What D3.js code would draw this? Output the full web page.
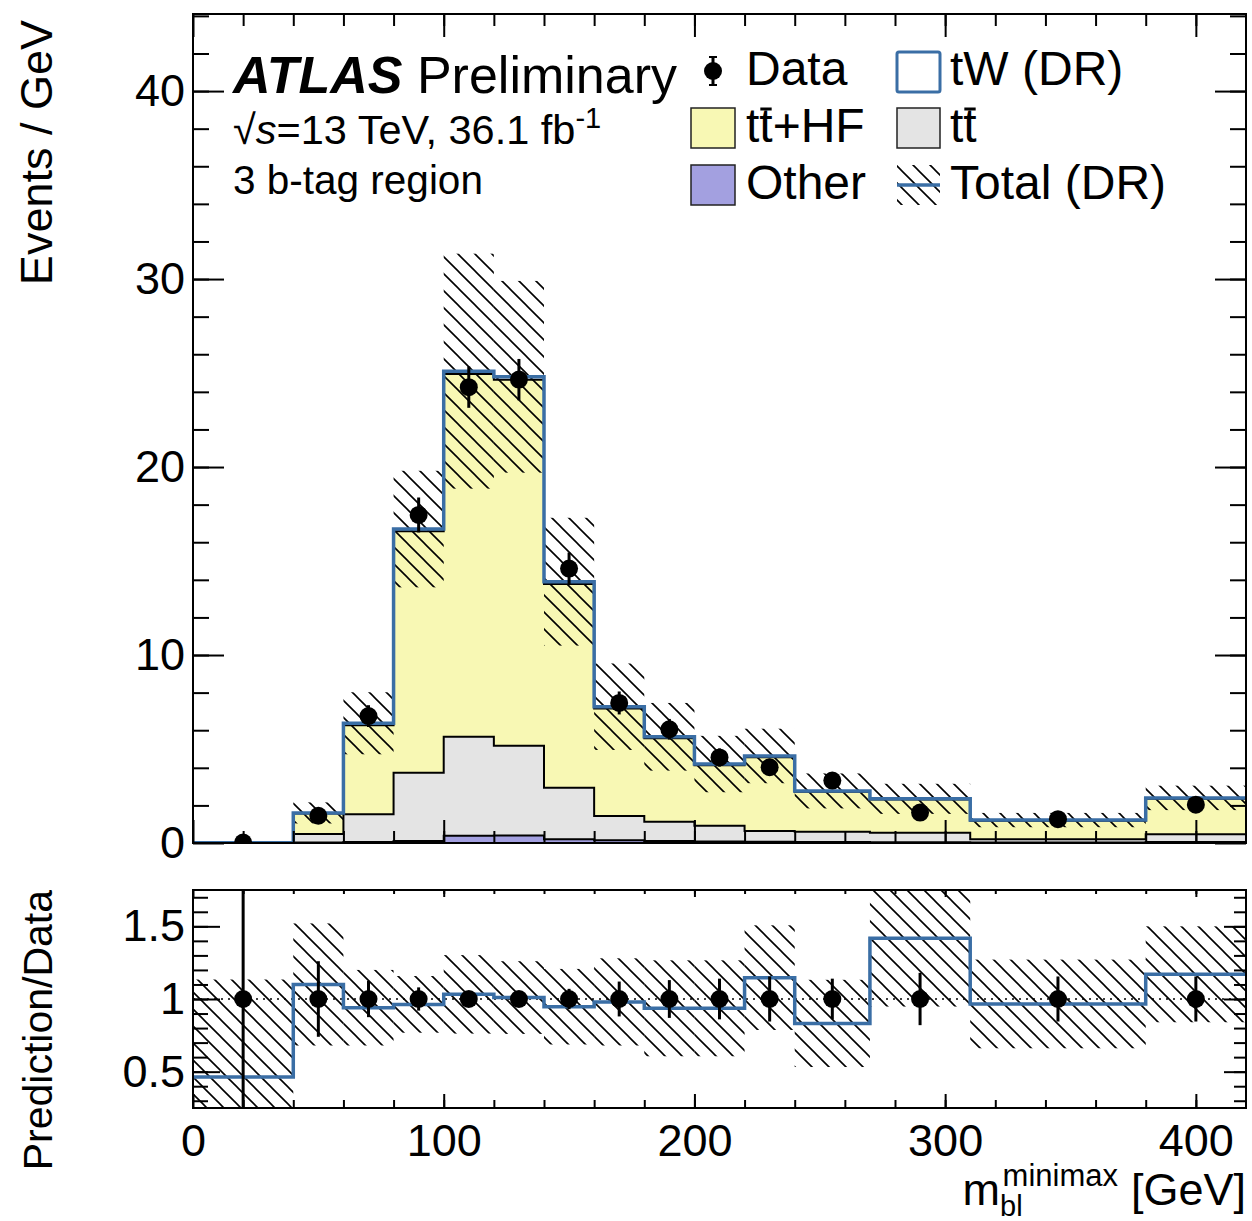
<!DOCTYPE html>
<html>
<head>
<meta charset="utf-8">
<script src="https://cdn.jsdelivr.net/npm/d3@7"></script>
<style>
  body { margin: 0; background: #fff; }
  svg { display: block; }
  text { font-family: "Liberation Sans", Arial, Helvetica, sans-serif; fill: #000; }
</style>
</head>
<body>
<div id="chart"></div>
<script>
// bin edges of m_bl^minimax [GeV]
const binEdges = [0, 40, 60, 80, 100, 120, 140, 160, 180, 200, 220, 240, 270, 310, 380, 420];

// stacked predictions, events / GeV
const otherYield = [0.002, 0.02, 0.05, 0.1, 0.38, 0.4, 0.2, 0.15, 0.1, 0.08, 0.06, 0.05, 0.04, 0.02, 0.05];
const ttbarYield = [0.003, 0.46, 1.48, 3.64, 5.27, 4.78, 2.74, 1.29, 1.03, 0.84, 0.58, 0.55, 0.51, 0.18, 0.41];
const ttHFYield = [0.006, 1.09, 4.74, 12.84, 19.3, 19.47, 10.84, 5.72, 4.44, 3.21, 3.92, 2.12, 1.76, 0.99, 1.89];
const tWYield = [0.001, 0.03, 0.1, 0.12, 0.15, 0.15, 0.12, 0.09, 0.08, 0.07, 0.07, 0.05, 0.04, 0.03, 0.05];
const totalUnc = [0, 0.56, 1.65, 3.1, 6.25, 5.1, 3.4, 2.3, 1.8, 1.5, 1.45, 0.93, 0.8, 0.38, 0.65];

// data
const dataValues = [0.025, 1.45, 6.75, 17.45, 24.25, 24.65, 14.6, 7.45, 6.05, 4.55, 4.03, 3.32, 1.62, 1.27, 2.04];
const dataErrors = [0.025, 0.27, 0.58, 0.93, 1.1, 1.1, 0.85, 0.61, 0.55, 0.48, 0.45, 0.33, 0.2, 0.14, 0.23];

// ratio panel
const ratioValues = [0.464, 1.1, 0.94, 0.963, 1.032, 1.01, 0.947, 0.98, 0.936, 0.936, 1.147, 0.832, 1.418, 0.966, 1.17];
const ratioUnc = [0.67, 0.42, 0.26, 0.195, 0.27, 0.25, 0.26, 0.3, 0.33, 0.33, 0.36, 0.3, 0.47, 0.305, 0.33];
const ratioDataErr = [1.5, 0.26, 0.125, 0.08, 0.05, 0.05, 0.07, 0.12, 0.13, 0.14, 0.155, 0.14, 0.18, 0.155, 0.155];

const xTicks = [0, 100, 200, 300, 400];
const yTicks = [0, 10, 20, 30, 40];
const ratioTicks = [0.5, 1, 1.5];

const width = 1252;
const height = 1221;
const frame = { left: 193, right: 1246 };
const mainPanel = { top: 14, bottom: 843 };
const ratioPanel = { top: 890, bottom: 1108 };
const blue = "#3a6ea5";
const font = 45;

const svg = d3.select("#chart").append("svg").attr("width", width).attr("height", height);
const defs = svg.append("defs");

const hatch = defs.append("pattern")
  .attr("id", "hatch")
  .attr("patternUnits", "userSpaceOnUse")
  .attr("width", 17)
  .attr("height", 17);
hatch.append("path")
  .attr("d", "M0,0L17,17M-4,13L4,21M13,-4L21,4")
  .attr("stroke", "#000")
  .attr("stroke-width", 1.6);

defs.append("clipPath").attr("id", "clipMain").append("rect")
  .attr("x", frame.left).attr("y", mainPanel.top)
  .attr("width", frame.right - frame.left).attr("height", mainPanel.bottom - mainPanel.top);
defs.append("clipPath").attr("id", "clipRatio").append("rect")
  .attr("x", frame.left).attr("y", ratioPanel.top)
  .attr("width", frame.right - frame.left).attr("height", ratioPanel.bottom - ratioPanel.top);

const x = d3.scaleLinear().domain([0, 420]).range([frame.left, frame.right]);
const y = d3.scaleLinear().domain([0, 44.1]).range([mainPanel.bottom, mainPanel.top]);
const yRatio = d3.scaleLinear().domain([0.25, 1.75]).range([ratioPanel.bottom, ratioPanel.top]);

const rows = binEdges.slice(0, -1).map((lo, i) => ({
  lo,
  hi: binEdges[i + 1],
  center: (lo + binEdges[i + 1]) / 2,
  other: otherYield[i],
  ttbar: ttbarYield[i],
  ttHF: ttHFYield[i],
  tW: tWYield[i],
  data: dataValues[i],
  dataErr: dataErrors[i],
  unc: totalUnc[i],
  ratio: ratioValues[i],
  ratioUnc: ratioUnc[i],
  ratioErr: ratioDataErr[i],
}));

const layers = d3.stack().keys(["other", "ttbar", "ttHF", "tW"])(rows);
const layerColors = { other: "#a3a0e0", ttbar: "#e4e4e4", ttHF: "#f8f8b4", tW: "#ffffff" };

// points for step drawing: one per bin low edge plus a closing point at the last edge
function stepPoints(values) {
  const pts = values.map((v, i) => ({ x: binEdges[i], v }));
  pts.push({ x: binEdges[binEdges.length - 1], v: values[values.length - 1] });
  return pts;
}

// ---------- main panel ----------
const main = svg.append("g").attr("clip-path", "url(#clipMain)");

layers.forEach((layer) => {
  const pts = layer.map((d, i) => ({ x: binEdges[i], lower: d[0], upper: d[1] }));
  pts.push({ x: binEdges[binEdges.length - 1], lower: layer[layer.length - 1][0], upper: layer[layer.length - 1][1] });
  main.append("path")
    .datum(pts)
    .attr("fill", layerColors[layer.key])
    .attr("d", d3.area().x((d) => x(d.x)).y0((d) => y(d.lower)).y1((d) => y(d.upper)).curve(d3.curveStepAfter));
});

layers.slice(0, 3).forEach((layer) => {
  main.append("path")
    .datum(stepPoints(layer.map((d) => d[1])))
    .attr("fill", "none")
    .attr("stroke", "#000")
    .attr("stroke-width", 2)
    .attr("d", d3.line().x((d) => x(d.x)).y((d) => y(d.v)).curve(d3.curveStepAfter));
});

const totals = layers[layers.length - 1].map((d) => d[1]);

main.append("g")
  .selectAll("rect")
  .data(rows.filter((r) => r.unc > 0))
  .join("rect")
  .attr("x", (d) => x(d.lo))
  .attr("width", (d) => x(d.hi) - x(d.lo))
  .attr("y", (d) => y(totals[rows.indexOf(d)] + d.unc))
  .attr("height", (d) => y(totals[rows.indexOf(d)] - d.unc) - y(totals[rows.indexOf(d)] + d.unc))
  .attr("fill", "url(#hatch)");

main.append("path")
  .datum(stepPoints(totals))
  .attr("fill", "none")
  .attr("stroke", blue)
  .attr("stroke-width", 3.5)
  .attr("d", d3.line().x((d) => x(d.x)).y((d) => y(d.v)).curve(d3.curveStepAfter));

const dataG = main.append("g");
dataG.selectAll("line")
  .data(rows)
  .join("line")
  .attr("x1", (d) => x(d.center)).attr("x2", (d) => x(d.center))
  .attr("y1", (d) => y(d.data - d.dataErr)).attr("y2", (d) => y(d.data + d.dataErr))
  .attr("stroke", "#000").attr("stroke-width", 3);
dataG.selectAll("circle")
  .data(rows)
  .join("circle")
  .attr("cx", (d) => x(d.center))
  .attr("cy", (d) => y(d.data))
  .attr("r", 9)
  .attr("fill", "#000");

// ---------- ratio panel ----------
const ratio = svg.append("g").attr("clip-path", "url(#clipRatio)");

ratio.append("g")
  .selectAll("rect")
  .data(rows)
  .join("rect")
  .attr("x", (d) => x(d.lo))
  .attr("width", (d) => x(d.hi) - x(d.lo))
  .attr("y", (d) => yRatio(d.ratio + d.ratioUnc))
  .attr("height", (d) => yRatio(d.ratio - d.ratioUnc) - yRatio(d.ratio + d.ratioUnc))
  .attr("fill", "url(#hatch)");

ratio.append("line")
  .attr("x1", frame.left).attr("x2", frame.right)
  .attr("y1", yRatio(1)).attr("y2", yRatio(1))
  .attr("stroke", "#000").attr("stroke-width", 1.5).attr("stroke-dasharray", "2 5");

ratio.append("path")
  .datum(stepPoints(ratioValues))
  .attr("fill", "none")
  .attr("stroke", blue)
  .attr("stroke-width", 3.5)
  .attr("d", d3.line().x((d) => x(d.x)).y((d) => yRatio(d.v)).curve(d3.curveStepAfter));

const ratioData = ratio.append("g");
ratioData.selectAll("line")
  .data(rows)
  .join("line")
  .attr("x1", (d) => x(d.center)).attr("x2", (d) => x(d.center))
  .attr("y1", (d) => yRatio(1 - d.ratioErr)).attr("y2", (d) => yRatio(1 + d.ratioErr))
  .attr("stroke", "#000").attr("stroke-width", 3);
ratioData.selectAll("circle")
  .data(rows)
  .join("circle")
  .attr("cx", (d) => x(d.center))
  .attr("cy", yRatio(1))
  .attr("r", 9)
  .attr("fill", "#000");

// ---------- axes ----------
function styleAxis(g) {
  g.select(".domain").remove();
  g.selectAll("line").attr("stroke", "#000").attr("stroke-width", 2);
  g.selectAll("text").attr("font-size", font).attr("font-family", null);
}
function addAxis(axis, transform) {
  svg.append("g").attr("transform", transform).call(axis).call(styleAxis);
}
const noLabel = () => "";

// main panel
addAxis(d3.axisLeft(y).tickValues(d3.range(2, 44.1, 2)).tickSize(-16).tickFormat(noLabel), `translate(${frame.left},0)`);
addAxis(d3.axisLeft(y).tickValues(yTicks).tickSize(-31).tickPadding(8).tickFormat(d3.format("d")), `translate(${frame.left},0)`);
addAxis(d3.axisRight(y).tickValues(d3.range(2, 44.1, 2)).tickSize(-16).tickFormat(noLabel), `translate(${frame.right},0)`);
addAxis(d3.axisRight(y).tickValues(yTicks).tickSize(-31).tickFormat(noLabel), `translate(${frame.right},0)`);
addAxis(d3.axisBottom(x).tickValues(d3.range(20, 420, 20)).tickSize(-12).tickFormat(noLabel), `translate(0,${mainPanel.bottom})`);
addAxis(d3.axisBottom(x).tickValues(xTicks).tickSize(-23).tickFormat(noLabel), `translate(0,${mainPanel.bottom})`);
addAxis(d3.axisTop(x).tickValues(d3.range(20, 420, 20)).tickSize(-12).tickFormat(noLabel), `translate(0,${mainPanel.top})`);
addAxis(d3.axisTop(x).tickValues(xTicks).tickSize(-23).tickFormat(noLabel), `translate(0,${mainPanel.top})`);

// ratio panel
addAxis(d3.axisLeft(yRatio).tickValues(d3.range(0.3, 1.75, 0.1)).tickSize(-15).tickFormat(noLabel), `translate(${frame.left},0)`);
addAxis(d3.axisLeft(yRatio).tickValues(ratioTicks).tickSize(-27).tickPadding(8).tickFormat((d) => String(d)), `translate(${frame.left},0)`);
addAxis(d3.axisRight(yRatio).tickValues(d3.range(0.3, 1.75, 0.1)).tickSize(-12).tickFormat(noLabel), `translate(${frame.right},0)`);
addAxis(d3.axisRight(yRatio).tickValues(ratioTicks).tickSize(-22).tickFormat(noLabel), `translate(${frame.right},0)`);
addAxis(d3.axisBottom(x).tickValues(d3.range(20, 420, 20)).tickSize(-8).tickFormat(noLabel), `translate(0,${ratioPanel.bottom})`);
addAxis(d3.axisBottom(x).tickValues(xTicks).tickSize(-14).tickPadding(16).tickFormat(d3.format("d")), `translate(0,${ratioPanel.bottom})`);
addAxis(d3.axisTop(x).tickValues(d3.range(20, 420, 20)).tickSize(-4).tickFormat(noLabel), `translate(0,${ratioPanel.top})`);
addAxis(d3.axisTop(x).tickValues(xTicks).tickSize(-7).tickFormat(noLabel), `translate(0,${ratioPanel.top})`);

[mainPanel, ratioPanel].forEach((p) => {
  svg.append("rect")
    .attr("x", frame.left).attr("y", p.top)
    .attr("width", frame.right - frame.left).attr("height", p.bottom - p.top)
    .attr("fill", "none").attr("stroke", "#000").attr("stroke-width", 2);
});

// axis titles
svg.append("text")
  .attr("transform", "translate(52,20) rotate(-90)")
  .attr("text-anchor", "end")
  .attr("font-size", font)
  .text("Events / GeV");
svg.append("text")
  .attr("transform", `translate(52,${ratioPanel.top}) rotate(-90)`)
  .attr("text-anchor", "end")
  .attr("font-size", 41)
  .text("Prediction/Data");

const xTitle = svg.append("g");
xTitle.append("text").attr("x", frame.right).attr("y", 1205).attr("text-anchor", "end").attr("font-size", font).text("[GeV]");
xTitle.append("text").attr("x", 1118).attr("y", 1186).attr("text-anchor", "end").attr("font-size", 31).text("minimax");
xTitle.append("text").attr("x", 1000).attr("y", 1216).attr("font-size", 29).text("bl");
xTitle.append("text").attr("x", 1000).attr("y", 1205).attr("text-anchor", "end").attr("font-size", font).text("m");

// ---------- labels ----------
const atlas = svg.append("text").attr("x", 233).attr("y", 93).attr("font-size", 52);
atlas.append("tspan").attr("font-weight", "bold").attr("font-style", "italic").text("ATLAS");
atlas.append("tspan").text(" Preliminary");

const energy = svg.append("text").attr("x", 233).attr("y", 144).attr("font-size", 41.5);
energy.append("tspan").text("\u221A");
energy.append("tspan").attr("font-style", "italic").text("s");
energy.append("tspan").text("=13 TeV, 36.1 fb");
energy.append("tspan").attr("font-size", 29).attr("dy", -16).text("-1");

svg.append("text").attr("x", 233).attr("y", 194).attr("font-size", 40.5).text("3 b-tag region");

// ---------- legend ----------
const legendFont = 48;
const legend = svg.append("g");

function legendText(xPos, yPos, label, barOver) {
  const t = legend.append("text").attr("x", xPos).attr("y", yPos).attr("font-size", legendFont).text(label);
  if (barOver) {
    const node = t.node();
    const s = node.getStartPositionOfChar(1).x;
    const e = node.getEndPositionOfChar(1).x;
    legend.append("line")
      .attr("x1", s + 1).attr("x2", e - 1)
      .attr("y1", yPos - 33).attr("y2", yPos - 33)
      .attr("stroke", "#000").attr("stroke-width", 3);
  }
}

// Data
legend.append("line").attr("x1", 713).attr("x2", 713).attr("y1", 56).attr("y2", 86).attr("stroke", "#000").attr("stroke-width", 3);
legend.append("line").attr("x1", 709).attr("x2", 717).attr("y1", 57).attr("y2", 57).attr("stroke", "#000").attr("stroke-width", 2);
legend.append("line").attr("x1", 709).attr("x2", 717).attr("y1", 85).attr("y2", 85).attr("stroke", "#000").attr("stroke-width", 2);
legend.append("circle").attr("cx", 713).attr("cy", 71).attr("r", 9).attr("fill", "#000");
legendText(746, 85, "Data", false);

// tW (DR)
legend.append("rect").attr("x", 897).attr("y", 52).attr("width", 43).attr("height", 40)
  .attr("fill", "#fff").attr("stroke", blue).attr("stroke-width", 3).attr("rx", 2);
legendText(950, 85, "tW (DR)", false);

// tt+HF
legend.append("rect").attr("x", 691).attr("y", 108).attr("width", 44).attr("height", 40)
  .attr("fill", layerColors.ttHF).attr("stroke", "#222").attr("stroke-width", 1.5);
legendText(746, 142, "tt+HF", true);

// tt
legend.append("rect").attr("x", 897).attr("y", 108).attr("width", 43).attr("height", 40)
  .attr("fill", layerColors.ttbar).attr("stroke", "#222").attr("stroke-width", 1.5);
legendText(950, 142, "tt", true);

// Other
legend.append("rect").attr("x", 691).attr("y", 165).attr("width", 44).attr("height", 40)
  .attr("fill", layerColors.other).attr("stroke", "#222").attr("stroke-width", 1.5);
legendText(746, 199, "Other", false);

// Total (DR)
legend.append("rect").attr("x", 897).attr("y", 165).attr("width", 43).attr("height", 40).attr("fill", "url(#hatch)");
legend.append("line").attr("x1", 897).attr("x2", 940).attr("y1", 185).attr("y2", 185).attr("stroke", blue).attr("stroke-width", 3.5);
legendText(950, 199, "Total (DR)", false);
</script>
</body>
</html>
